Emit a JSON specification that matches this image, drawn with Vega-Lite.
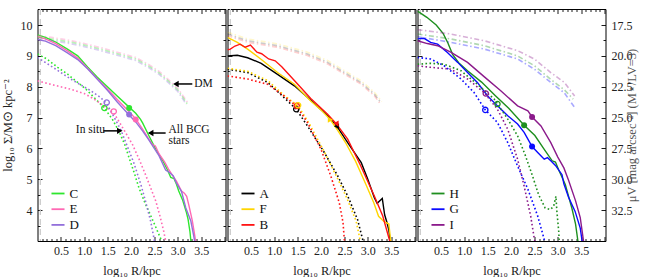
{
"$schema":"https://vega.github.io/schema/vega-lite/v6.json",
"padding":{"left":0.5,"top":8,"right":2,"bottom":0},
"spacing":0,
"resolve":{"scale":{"color":"independent"}},
"config":{"view":{"stroke":null},"font":"Liberation Serif",
 "axis":{"domainColor":"#000","domainWidth":1,"tickColor":"#000","tickWidth":0.9,"grid":false,"labelFont":"Liberation Serif","labelFontSize":12,"labelColor":"#222","titleFont":"Liberation Serif","titleFontSize":12.5,"titleFontWeight":"normal","titleColor":"#222","labelOverlap":false,"labelFlush":false},
 "legend":{"labelFont":"Liberation Serif","labelFontSize":13,"labelColor":"#111","symbolStrokeWidth":1.8,"symbolSize":170,"rowPadding":0.7,"padding":0,"labelOffset":4},
 "concat":{"spacing":0}},
"datasets":{
"soft":[{"x":0.06}],
"notes":[{"t":"DM","x":3.35,"y":8.09},{"t":"In situ","x":0.82,"y":6.59},{"t":"All BCG","x":2.8,"y":6.6},{"t":"stars","x":2.8,"y":6.25}],
"arrows":[{"x":3.31,"x2":2.96,"y":8.09,"d":"left"},{"x":1.41,"x2":1.76,"y":6.57,"d":"right"},{"x":2.74,"x2":2.42,"y":6.5,"d":"left"}],
"pts":[
{"p":1,"id":"C","k":"o","x":1.43,"y":7.31},{"p":1,"id":"D","k":"o","x":1.48,"y":7.49},{"p":1,"id":"E","k":"o","x":1.63,"y":7.2},
{"p":1,"id":"C","k":"f","x":1.96,"y":7.31},{"p":1,"id":"D","k":"f","x":1.96,"y":7.1},{"p":1,"id":"E","k":"f","x":2.1,"y":6.94},
{"p":2,"id":"A","k":"o","x":1.47,"y":7.27},{"p":2,"id":"B","k":"o","x":1.48,"y":7.38},{"p":2,"id":"F","k":"o","x":1.51,"y":7.4},
{"p":2,"id":"F","k":"f","x":2.2,"y":6.93},{"p":2,"id":"A","k":"f","x":2.33,"y":6.72},{"p":2,"id":"B","k":"f","x":2.32,"y":6.81},
{"p":3,"id":"I","k":"o","x":1.46,"y":7.78},{"p":3,"id":"H","k":"o","x":1.71,"y":7.44},{"p":3,"id":"G","k":"o","x":1.45,"y":7.25},
{"p":3,"id":"I","k":"f","x":2.45,"y":7.02},{"p":3,"id":"H","k":"f","x":2.28,"y":6.75},{"p":3,"id":"G","k":"f","x":2.45,"y":6.06}
],
"lines":[
{"p":1,"id":"C","k":"a","x":0,"y":9.68},{"p":1,"id":"C","k":"a","x":0.17,"y":9.6},{"p":1,"id":"C","k":"a","x":0.39,"y":9.45},{"p":1,"id":"C","k":"a","x":0.64,"y":9.22},{"p":1,"id":"C","k":"a","x":0.86,"y":9.0},{"p":1,"id":"C","k":"a","x":1.07,"y":8.64},{"p":1,"id":"C","k":"a","x":1.28,"y":8.31},{"p":1,"id":"C","k":"a","x":1.5,"y":7.99},{"p":1,"id":"C","k":"a","x":1.71,"y":7.69},{"p":1,"id":"C","k":"a","x":1.93,"y":7.38},{"p":1,"id":"C","k":"a","x":2.1,"y":7.14},{"p":1,"id":"C","k":"a","x":2.2,"y":6.95},{"p":1,"id":"C","k":"a","x":2.25,"y":6.82},{"p":1,"id":"C","k":"a","x":2.38,"y":6.42},{"p":1,"id":"C","k":"a","x":2.53,"y":5.97},{"p":1,"id":"C","k":"a","x":2.68,"y":5.6},{"p":1,"id":"C","k":"a","x":2.78,"y":5.3},{"p":1,"id":"C","k":"a","x":2.85,"y":5.06},{"p":1,"id":"C","k":"a","x":2.92,"y":5.02},{"p":1,"id":"C","k":"a","x":2.97,"y":4.85},{"p":1,"id":"C","k":"a","x":3.02,"y":4.62},{"p":1,"id":"C","k":"a","x":3.1,"y":4.34},{"p":1,"id":"C","k":"a","x":3.18,"y":3.95},{"p":1,"id":"C","k":"a","x":3.22,"y":3.7},{"p":1,"id":"C","k":"a","x":3.26,"y":3.3},{"p":1,"id":"C","k":"a","x":3.28,"y":3.0},
{"p":1,"id":"E","k":"a","x":0,"y":9.62},{"p":1,"id":"E","k":"a","x":0.17,"y":9.55},{"p":1,"id":"E","k":"a","x":0.39,"y":9.4},{"p":1,"id":"E","k":"a","x":0.64,"y":9.16},{"p":1,"id":"E","k":"a","x":0.86,"y":8.93},{"p":1,"id":"E","k":"a","x":1.07,"y":8.6},{"p":1,"id":"E","k":"a","x":1.28,"y":8.26},{"p":1,"id":"E","k":"a","x":1.5,"y":7.92},{"p":1,"id":"E","k":"a","x":1.71,"y":7.58},{"p":1,"id":"E","k":"a","x":1.93,"y":7.24},{"p":1,"id":"E","k":"a","x":2.1,"y":6.96},{"p":1,"id":"E","k":"a","x":2.25,"y":6.62},{"p":1,"id":"E","k":"a","x":2.38,"y":6.3},{"p":1,"id":"E","k":"a","x":2.46,"y":6.12},{"p":1,"id":"E","k":"a","x":2.52,"y":6.08},{"p":1,"id":"E","k":"a","x":2.6,"y":5.82},{"p":1,"id":"E","k":"a","x":2.72,"y":5.56},{"p":1,"id":"E","k":"a","x":2.8,"y":5.33},{"p":1,"id":"E","k":"a","x":2.97,"y":4.94},{"p":1,"id":"E","k":"a","x":3.08,"y":4.62},{"p":1,"id":"E","k":"a","x":3.14,"y":4.55},{"p":1,"id":"E","k":"a","x":3.19,"y":4.45},{"p":1,"id":"E","k":"a","x":3.24,"y":4.14},{"p":1,"id":"E","k":"a","x":3.31,"y":3.66},{"p":1,"id":"E","k":"a","x":3.36,"y":3.2},{"p":1,"id":"E","k":"a","x":3.38,"y":3.0},
{"p":1,"id":"D","k":"a","x":0,"y":9.53},{"p":1,"id":"D","k":"a","x":0.17,"y":9.48},{"p":1,"id":"D","k":"a","x":0.39,"y":9.33},{"p":1,"id":"D","k":"a","x":0.64,"y":9.1},{"p":1,"id":"D","k":"a","x":0.86,"y":8.88},{"p":1,"id":"D","k":"a","x":1.07,"y":8.58},{"p":1,"id":"D","k":"a","x":1.28,"y":8.24},{"p":1,"id":"D","k":"a","x":1.5,"y":7.88},{"p":1,"id":"D","k":"a","x":1.71,"y":7.5},{"p":1,"id":"D","k":"a","x":1.93,"y":7.13},{"p":1,"id":"D","k":"a","x":2.1,"y":6.86},{"p":1,"id":"D","k":"a","x":2.25,"y":6.56},{"p":1,"id":"D","k":"a","x":2.38,"y":6.28},{"p":1,"id":"D","k":"a","x":2.6,"y":5.76},{"p":1,"id":"D","k":"a","x":2.74,"y":5.3},{"p":1,"id":"D","k":"a","x":2.82,"y":5.22},{"p":1,"id":"D","k":"a","x":2.9,"y":5.12},{"p":1,"id":"D","k":"a","x":2.97,"y":4.88},{"p":1,"id":"D","k":"a","x":3.08,"y":4.6},{"p":1,"id":"D","k":"a","x":3.17,"y":4.08},{"p":1,"id":"D","k":"a","x":3.28,"y":3.64},{"p":1,"id":"D","k":"a","x":3.33,"y":3.25},{"p":1,"id":"D","k":"a","x":3.36,"y":3.0},
{"p":1,"id":"C","k":"s","x":0,"y":9.06},{"p":1,"id":"C","k":"s","x":0.2,"y":8.9},{"p":1,"id":"C","k":"s","x":0.43,"y":8.63},{"p":1,"id":"C","k":"s","x":0.65,"y":8.4},{"p":1,"id":"C","k":"s","x":0.86,"y":8.14},{"p":1,"id":"C","k":"s","x":1.05,"y":7.9},{"p":1,"id":"C","k":"s","x":1.21,"y":7.65},{"p":1,"id":"C","k":"s","x":1.43,"y":7.31},{"p":1,"id":"C","k":"s","x":1.6,"y":6.95},{"p":1,"id":"C","k":"s","x":1.74,"y":6.56},{"p":1,"id":"C","k":"s","x":1.86,"y":6.15},{"p":1,"id":"C","k":"s","x":1.96,"y":5.69},{"p":1,"id":"C","k":"s","x":2.07,"y":5.2},{"p":1,"id":"C","k":"s","x":2.17,"y":4.72},{"p":1,"id":"C","k":"s","x":2.28,"y":4.3},{"p":1,"id":"C","k":"s","x":2.38,"y":3.96},{"p":1,"id":"C","k":"s","x":2.5,"y":3.55},{"p":1,"id":"C","k":"s","x":2.63,"y":3.09},{"p":1,"id":"C","k":"s","x":2.66,"y":3.0},
{"p":1,"id":"E","k":"s","x":0,"y":8.19},{"p":1,"id":"E","k":"s","x":0.36,"y":8.05},{"p":1,"id":"E","k":"s","x":0.71,"y":7.92},{"p":1,"id":"E","k":"s","x":1.0,"y":7.78},{"p":1,"id":"E","k":"s","x":1.21,"y":7.6},{"p":1,"id":"E","k":"s","x":1.45,"y":7.35},{"p":1,"id":"E","k":"s","x":1.63,"y":7.15},{"p":1,"id":"E","k":"s","x":1.74,"y":6.88},{"p":1,"id":"E","k":"s","x":1.88,"y":6.52},{"p":1,"id":"E","k":"s","x":2.03,"y":6.13},{"p":1,"id":"E","k":"s","x":2.17,"y":5.66},{"p":1,"id":"E","k":"s","x":2.31,"y":5.15},{"p":1,"id":"E","k":"s","x":2.42,"y":4.72},{"p":1,"id":"E","k":"s","x":2.53,"y":4.29},{"p":1,"id":"E","k":"s","x":2.62,"y":3.8},{"p":1,"id":"E","k":"s","x":2.7,"y":3.31},{"p":1,"id":"E","k":"s","x":2.74,"y":3.0},
{"p":1,"id":"D","k":"s","x":0,"y":8.95},{"p":1,"id":"D","k":"s","x":0.36,"y":8.6},{"p":1,"id":"D","k":"s","x":0.71,"y":8.25},{"p":1,"id":"D","k":"s","x":1.14,"y":7.87},{"p":1,"id":"D","k":"s","x":1.35,"y":7.65},{"p":1,"id":"D","k":"s","x":1.48,"y":7.45},{"p":1,"id":"D","k":"s","x":1.6,"y":7.12},{"p":1,"id":"D","k":"s","x":1.78,"y":6.61},{"p":1,"id":"D","k":"s","x":1.92,"y":6.07},{"p":1,"id":"D","k":"s","x":2.06,"y":5.53},{"p":1,"id":"D","k":"s","x":2.21,"y":4.83},{"p":1,"id":"D","k":"s","x":2.31,"y":4.29},{"p":1,"id":"D","k":"s","x":2.42,"y":3.64},{"p":1,"id":"D","k":"s","x":2.49,"y":3.09},{"p":1,"id":"D","k":"s","x":2.5,"y":3.0},
{"p":1,"id":"E","k":"d","x":0,"y":9.65},{"p":1,"id":"E","k":"d","x":0.3,"y":9.6},{"p":1,"id":"E","k":"d","x":0.7,"y":9.5},{"p":1,"id":"E","k":"d","x":1.0,"y":9.4},{"p":1,"id":"E","k":"d","x":1.4,"y":9.25},{"p":1,"id":"E","k":"d","x":1.8,"y":9.08},{"p":1,"id":"E","k":"d","x":2.1,"y":8.95},{"p":1,"id":"E","k":"d","x":2.4,"y":8.7},{"p":1,"id":"E","k":"d","x":2.6,"y":8.5},{"p":1,"id":"E","k":"d","x":2.8,"y":8.23},{"p":1,"id":"E","k":"d","x":3.0,"y":7.95},{"p":1,"id":"E","k":"d","x":3.22,"y":7.47},
{"p":1,"id":"C","k":"d","x":0,"y":9.6},{"p":1,"id":"C","k":"d","x":0.3,"y":9.55},{"p":1,"id":"C","k":"d","x":0.7,"y":9.45},{"p":1,"id":"C","k":"d","x":1.0,"y":9.35},{"p":1,"id":"C","k":"d","x":1.4,"y":9.2},{"p":1,"id":"C","k":"d","x":1.8,"y":9.03},{"p":1,"id":"C","k":"d","x":2.1,"y":8.9},{"p":1,"id":"C","k":"d","x":2.4,"y":8.65},{"p":1,"id":"C","k":"d","x":2.6,"y":8.45},{"p":1,"id":"C","k":"d","x":2.8,"y":8.18},{"p":1,"id":"C","k":"d","x":3.0,"y":7.9},{"p":1,"id":"C","k":"d","x":3.2,"y":7.45},
{"p":1,"id":"D","k":"d","x":0,"y":9.55},{"p":1,"id":"D","k":"d","x":0.3,"y":9.5},{"p":1,"id":"D","k":"d","x":0.7,"y":9.4},{"p":1,"id":"D","k":"d","x":1.0,"y":9.3},{"p":1,"id":"D","k":"d","x":1.4,"y":9.15},{"p":1,"id":"D","k":"d","x":1.8,"y":8.98},{"p":1,"id":"D","k":"d","x":2.1,"y":8.85},{"p":1,"id":"D","k":"d","x":2.4,"y":8.6},{"p":1,"id":"D","k":"d","x":2.6,"y":8.4},{"p":1,"id":"D","k":"d","x":2.8,"y":8.13},{"p":1,"id":"D","k":"d","x":3.0,"y":7.85},{"p":1,"id":"D","k":"d","x":3.18,"y":7.43},
{"p":2,"id":"A","k":"a","x":0,"y":9.0},{"p":2,"id":"A","k":"a","x":0.21,"y":9.02},{"p":2,"id":"A","k":"a","x":0.43,"y":8.94},{"p":2,"id":"A","k":"a","x":0.72,"y":8.76},{"p":2,"id":"A","k":"a","x":1.07,"y":8.4},{"p":2,"id":"A","k":"a","x":1.43,"y":8.03},{"p":2,"id":"A","k":"a","x":1.78,"y":7.56},{"p":2,"id":"A","k":"a","x":2.14,"y":7.06},{"p":2,"id":"A","k":"a","x":2.33,"y":6.74},{"p":2,"id":"A","k":"a","x":2.57,"y":6.19},{"p":2,"id":"A","k":"a","x":2.86,"y":5.54},{"p":2,"id":"A","k":"a","x":3.0,"y":5.0},{"p":2,"id":"A","k":"a","x":3.14,"y":4.4},{"p":2,"id":"A","k":"a","x":3.2,"y":4.22},{"p":2,"id":"A","k":"a","x":3.31,"y":4.38},{"p":2,"id":"A","k":"a","x":3.36,"y":3.85},{"p":2,"id":"A","k":"a","x":3.41,"y":3.6},{"p":2,"id":"A","k":"a","x":3.45,"y":3.35},{"p":2,"id":"A","k":"a","x":3.48,"y":3.0},
{"p":2,"id":"F","k":"a","x":0,"y":9.6},{"p":2,"id":"F","k":"a","x":0.21,"y":9.44},{"p":2,"id":"F","k":"a","x":0.43,"y":9.22},{"p":2,"id":"F","k":"a","x":0.71,"y":8.9},{"p":2,"id":"F","k":"a","x":1.07,"y":8.46},{"p":2,"id":"F","k":"a","x":1.43,"y":8.08},{"p":2,"id":"F","k":"a","x":1.78,"y":7.54},{"p":2,"id":"F","k":"a","x":2.0,"y":7.25},{"p":2,"id":"F","k":"a","x":2.2,"y":6.93},{"p":2,"id":"F","k":"a","x":2.35,"y":6.6},{"p":2,"id":"F","k":"a","x":2.52,"y":6.2},{"p":2,"id":"F","k":"a","x":2.74,"y":5.58},{"p":2,"id":"F","k":"a","x":2.96,"y":4.83},{"p":2,"id":"F","k":"a","x":3.13,"y":4.23},{"p":2,"id":"F","k":"a","x":3.23,"y":3.8},{"p":2,"id":"F","k":"a","x":3.34,"y":3.64},{"p":2,"id":"F","k":"a","x":3.45,"y":3.55},{"p":2,"id":"F","k":"a","x":3.49,"y":3.0},
{"p":2,"id":"B","k":"a","x":0,"y":9.2},{"p":2,"id":"B","k":"a","x":0.06,"y":9.22},{"p":2,"id":"B","k":"a","x":0.16,"y":9.32},{"p":2,"id":"B","k":"a","x":0.27,"y":9.38},{"p":2,"id":"B","k":"a","x":0.38,"y":9.28},{"p":2,"id":"B","k":"a","x":0.49,"y":9.35},{"p":2,"id":"B","k":"a","x":0.63,"y":9.12},{"p":2,"id":"B","k":"a","x":0.73,"y":9.07},{"p":2,"id":"B","k":"a","x":0.88,"y":8.9},{"p":2,"id":"B","k":"a","x":1.02,"y":8.84},{"p":2,"id":"B","k":"a","x":1.16,"y":8.65},{"p":2,"id":"B","k":"a","x":1.43,"y":8.2},{"p":2,"id":"B","k":"a","x":1.78,"y":7.62},{"p":2,"id":"B","k":"a","x":2.14,"y":7.11},{"p":2,"id":"B","k":"a","x":2.32,"y":6.81},{"p":2,"id":"B","k":"a","x":2.57,"y":6.3},{"p":2,"id":"B","k":"a","x":2.85,"y":5.43},{"p":2,"id":"B","k":"a","x":3.14,"y":4.46},{"p":2,"id":"B","k":"a","x":3.32,"y":3.81},{"p":2,"id":"B","k":"a","x":3.46,"y":3.05},{"p":2,"id":"B","k":"a","x":3.47,"y":3.0},
{"p":2,"id":"A","k":"s","x":0,"y":8.57},{"p":2,"id":"A","k":"s","x":0.43,"y":8.46},{"p":2,"id":"A","k":"s","x":0.86,"y":8.14},{"p":2,"id":"A","k":"s","x":1.21,"y":7.65},{"p":2,"id":"A","k":"s","x":1.47,"y":7.27},{"p":2,"id":"A","k":"s","x":1.71,"y":6.73},{"p":2,"id":"A","k":"s","x":2.07,"y":5.87},{"p":2,"id":"A","k":"s","x":2.36,"y":5.1},{"p":2,"id":"A","k":"s","x":2.57,"y":4.46},{"p":2,"id":"A","k":"s","x":2.78,"y":3.7},{"p":2,"id":"A","k":"s","x":2.89,"y":3.05},{"p":2,"id":"A","k":"s","x":2.9,"y":3.0},
{"p":2,"id":"F","k":"s","x":0,"y":8.6},{"p":2,"id":"F","k":"s","x":0.43,"y":8.5},{"p":2,"id":"F","k":"s","x":0.86,"y":8.2},{"p":2,"id":"F","k":"s","x":1.21,"y":7.72},{"p":2,"id":"F","k":"s","x":1.51,"y":7.38},{"p":2,"id":"F","k":"s","x":1.75,"y":6.8},{"p":2,"id":"F","k":"s","x":2.05,"y":5.95},{"p":2,"id":"F","k":"s","x":2.33,"y":5.1},{"p":2,"id":"F","k":"s","x":2.55,"y":4.4},{"p":2,"id":"F","k":"s","x":2.75,"y":3.65},{"p":2,"id":"F","k":"s","x":2.84,"y":3.0},
{"p":2,"id":"B","k":"s","x":0,"y":8.35},{"p":2,"id":"B","k":"s","x":0.43,"y":8.25},{"p":2,"id":"B","k":"s","x":0.86,"y":8.08},{"p":2,"id":"B","k":"s","x":1.21,"y":7.7},{"p":2,"id":"B","k":"s","x":1.48,"y":7.36},{"p":2,"id":"B","k":"s","x":1.71,"y":6.84},{"p":2,"id":"B","k":"s","x":2.0,"y":5.97},{"p":2,"id":"B","k":"s","x":2.21,"y":5.1},{"p":2,"id":"B","k":"s","x":2.39,"y":4.24},{"p":2,"id":"B","k":"s","x":2.47,"y":3.6},{"p":2,"id":"B","k":"s","x":2.5,"y":3.0},
{"p":2,"id":"F","k":"d","x":0,"y":9.77},{"p":2,"id":"F","k":"d","x":0.43,"y":9.55},{"p":2,"id":"F","k":"d","x":1.07,"y":9.39},{"p":2,"id":"F","k":"d","x":1.71,"y":9.12},{"p":2,"id":"F","k":"d","x":2.14,"y":8.85},{"p":2,"id":"F","k":"d","x":2.5,"y":8.52},{"p":2,"id":"F","k":"d","x":2.85,"y":8.2},{"p":2,"id":"F","k":"d","x":3.14,"y":7.82},{"p":2,"id":"F","k":"d","x":3.3,"y":7.52},
{"p":2,"id":"A","k":"d","x":0,"y":9.71},{"p":2,"id":"A","k":"d","x":0.43,"y":9.49},{"p":2,"id":"A","k":"d","x":1.07,"y":9.33},{"p":2,"id":"A","k":"d","x":1.71,"y":9.06},{"p":2,"id":"A","k":"d","x":2.14,"y":8.79},{"p":2,"id":"A","k":"d","x":2.5,"y":8.46},{"p":2,"id":"A","k":"d","x":2.85,"y":8.14},{"p":2,"id":"A","k":"d","x":3.14,"y":7.76},{"p":2,"id":"A","k":"d","x":3.28,"y":7.49},
{"p":2,"id":"B","k":"d","x":0,"y":9.66},{"p":2,"id":"B","k":"d","x":0.43,"y":9.44},{"p":2,"id":"B","k":"d","x":1.07,"y":9.28},{"p":2,"id":"B","k":"d","x":1.71,"y":9.01},{"p":2,"id":"B","k":"d","x":2.14,"y":8.74},{"p":2,"id":"B","k":"d","x":2.5,"y":8.41},{"p":2,"id":"B","k":"d","x":2.85,"y":8.09},{"p":2,"id":"B","k":"d","x":3.14,"y":7.71},{"p":2,"id":"B","k":"d","x":3.26,"y":7.46},
{"p":3,"id":"H","k":"a","x":0,"y":10.45},{"p":3,"id":"H","k":"a","x":0.2,"y":10.25},{"p":3,"id":"H","k":"a","x":0.4,"y":10.0},{"p":3,"id":"H","k":"a","x":0.55,"y":9.72},{"p":3,"id":"H","k":"a","x":0.65,"y":9.42},{"p":3,"id":"H","k":"a","x":0.75,"y":9.05},{"p":3,"id":"H","k":"a","x":0.88,"y":8.78},{"p":3,"id":"H","k":"a","x":1.07,"y":8.52},{"p":3,"id":"H","k":"a","x":1.37,"y":8.15},{"p":3,"id":"H","k":"a","x":1.66,"y":7.72},{"p":3,"id":"H","k":"a","x":1.95,"y":7.3},{"p":3,"id":"H","k":"a","x":2.28,"y":6.75},{"p":3,"id":"H","k":"a","x":2.51,"y":6.42},{"p":3,"id":"H","k":"a","x":2.71,"y":5.97},{"p":3,"id":"H","k":"a","x":2.88,"y":5.6},{"p":3,"id":"H","k":"a","x":2.95,"y":5.56},{"p":3,"id":"H","k":"a","x":3.02,"y":5.3},{"p":3,"id":"H","k":"a","x":3.16,"y":4.83},{"p":3,"id":"H","k":"a","x":3.3,"y":4.07},{"p":3,"id":"H","k":"a","x":3.38,"y":3.55},{"p":3,"id":"H","k":"a","x":3.43,"y":3.0},
{"p":3,"id":"G","k":"a","x":0,"y":9.55},{"p":3,"id":"G","k":"a","x":0.14,"y":9.57},{"p":3,"id":"G","k":"a","x":0.28,"y":9.44},{"p":3,"id":"G","k":"a","x":0.43,"y":9.38},{"p":3,"id":"G","k":"a","x":0.64,"y":9.11},{"p":3,"id":"G","k":"a","x":0.86,"y":8.79},{"p":3,"id":"G","k":"a","x":1.07,"y":8.46},{"p":3,"id":"G","k":"a","x":1.28,"y":8.14},{"p":3,"id":"G","k":"a","x":1.5,"y":7.7},{"p":3,"id":"G","k":"a","x":1.71,"y":7.38},{"p":3,"id":"G","k":"a","x":1.93,"y":7.06},{"p":3,"id":"G","k":"a","x":2.14,"y":6.79},{"p":3,"id":"G","k":"a","x":2.28,"y":6.52},{"p":3,"id":"G","k":"a","x":2.45,"y":6.06},{"p":3,"id":"G","k":"a","x":2.57,"y":5.87},{"p":3,"id":"G","k":"a","x":2.71,"y":5.65},{"p":3,"id":"G","k":"a","x":2.78,"y":5.7},{"p":3,"id":"G","k":"a","x":2.85,"y":5.6},{"p":3,"id":"G","k":"a","x":2.95,"y":5.45},{"p":3,"id":"G","k":"a","x":3.09,"y":5.15},{"p":3,"id":"G","k":"a","x":3.13,"y":4.85},{"p":3,"id":"G","k":"a","x":3.23,"y":4.42},{"p":3,"id":"G","k":"a","x":3.37,"y":3.96},{"p":3,"id":"G","k":"a","x":3.48,"y":3.42},{"p":3,"id":"G","k":"a","x":3.52,"y":3.0},
{"p":3,"id":"I","k":"a","x":0,"y":9.49},{"p":3,"id":"I","k":"a","x":0.21,"y":9.4},{"p":3,"id":"I","k":"a","x":0.43,"y":9.33},{"p":3,"id":"I","k":"a","x":0.71,"y":9.12},{"p":3,"id":"I","k":"a","x":1.07,"y":8.79},{"p":3,"id":"I","k":"a","x":1.43,"y":8.32},{"p":3,"id":"I","k":"a","x":1.78,"y":7.87},{"p":3,"id":"I","k":"a","x":2.14,"y":7.38},{"p":3,"id":"I","k":"a","x":2.36,"y":7.22},{"p":3,"id":"I","k":"a","x":2.45,"y":7.02},{"p":3,"id":"I","k":"a","x":2.64,"y":6.73},{"p":3,"id":"I","k":"a","x":2.85,"y":6.19},{"p":3,"id":"I","k":"a","x":3.0,"y":5.72},{"p":3,"id":"I","k":"a","x":3.13,"y":5.37},{"p":3,"id":"I","k":"a","x":3.23,"y":4.97},{"p":3,"id":"I","k":"a","x":3.38,"y":4.3},{"p":3,"id":"I","k":"a","x":3.48,"y":3.76},{"p":3,"id":"I","k":"a","x":3.55,"y":3.0},
{"p":3,"id":"G","k":"s","x":0,"y":8.95},{"p":3,"id":"G","k":"s","x":0.28,"y":8.9},{"p":3,"id":"G","k":"s","x":0.57,"y":8.68},{"p":3,"id":"G","k":"s","x":0.93,"y":8.25},{"p":3,"id":"G","k":"s","x":1.21,"y":7.81},{"p":3,"id":"G","k":"s","x":1.45,"y":7.25},{"p":3,"id":"G","k":"s","x":1.71,"y":6.84},{"p":3,"id":"G","k":"s","x":1.93,"y":6.19},{"p":3,"id":"G","k":"s","x":2.14,"y":5.43},{"p":3,"id":"G","k":"s","x":2.36,"y":4.68},{"p":3,"id":"G","k":"s","x":2.57,"y":3.81},{"p":3,"id":"G","k":"s","x":2.71,"y":3.05},{"p":3,"id":"G","k":"s","x":2.72,"y":3.0},
{"p":3,"id":"I","k":"s","x":0,"y":8.68},{"p":3,"id":"I","k":"s","x":0.28,"y":8.63},{"p":3,"id":"I","k":"s","x":0.71,"y":8.57},{"p":3,"id":"I","k":"s","x":1.07,"y":8.25},{"p":3,"id":"I","k":"s","x":1.43,"y":7.81},{"p":3,"id":"I","k":"s","x":1.71,"y":7.27},{"p":3,"id":"I","k":"s","x":1.93,"y":6.62},{"p":3,"id":"I","k":"s","x":2.14,"y":5.65},{"p":3,"id":"I","k":"s","x":2.28,"y":4.78},{"p":3,"id":"I","k":"s","x":2.42,"y":3.81},{"p":3,"id":"I","k":"s","x":2.5,"y":3.05},{"p":3,"id":"I","k":"s","x":2.51,"y":3.0},
{"p":3,"id":"H","k":"s","x":0,"y":8.73},{"p":3,"id":"H","k":"s","x":0.28,"y":8.76},{"p":3,"id":"H","k":"s","x":0.57,"y":8.73},{"p":3,"id":"H","k":"s","x":0.93,"y":8.52},{"p":3,"id":"H","k":"s","x":1.28,"y":8.08},{"p":3,"id":"H","k":"s","x":1.64,"y":7.6},{"p":3,"id":"H","k":"s","x":1.93,"y":6.95},{"p":3,"id":"H","k":"s","x":2.14,"y":6.41},{"p":3,"id":"H","k":"s","x":2.3,"y":5.8},{"p":3,"id":"H","k":"s","x":2.45,"y":5.15},{"p":3,"id":"H","k":"s","x":2.59,"y":4.5},{"p":3,"id":"H","k":"s","x":2.73,"y":4.07},{"p":3,"id":"H","k":"s","x":2.84,"y":4.02},{"p":3,"id":"H","k":"s","x":2.91,"y":4.12},{"p":3,"id":"H","k":"s","x":2.96,"y":4.45},{"p":3,"id":"H","k":"s","x":2.98,"y":3.97},{"p":3,"id":"H","k":"s","x":3.02,"y":3.31},{"p":3,"id":"H","k":"s","x":3.03,"y":3.0},
{"p":3,"id":"I","k":"d","x":0,"y":9.85},{"p":3,"id":"I","k":"d","x":0.71,"y":9.71},{"p":3,"id":"I","k":"d","x":1.43,"y":9.49},{"p":3,"id":"I","k":"d","x":2.14,"y":9.17},{"p":3,"id":"I","k":"d","x":2.5,"y":8.9},{"p":3,"id":"I","k":"d","x":2.85,"y":8.46},{"p":3,"id":"I","k":"d","x":3.14,"y":8.14},{"p":3,"id":"I","k":"d","x":3.36,"y":7.7},
{"p":3,"id":"H","k":"d","x":0,"y":9.71},{"p":3,"id":"H","k":"d","x":0.71,"y":9.55},{"p":3,"id":"H","k":"d","x":1.43,"y":9.33},{"p":3,"id":"H","k":"d","x":2.14,"y":9.0},{"p":3,"id":"H","k":"d","x":2.5,"y":8.68},{"p":3,"id":"H","k":"d","x":2.85,"y":8.24},{"p":3,"id":"H","k":"d","x":3.14,"y":7.9},{"p":3,"id":"H","k":"d","x":3.33,"y":7.6},
{"p":3,"id":"G","k":"d","x":0,"y":9.62},{"p":3,"id":"G","k":"d","x":0.71,"y":9.44},{"p":3,"id":"G","k":"d","x":1.43,"y":9.22},{"p":3,"id":"G","k":"d","x":2.14,"y":8.9},{"p":3,"id":"G","k":"d","x":2.5,"y":8.57},{"p":3,"id":"G","k":"d","x":2.85,"y":8.14},{"p":3,"id":"G","k":"d","x":3.14,"y":7.8},{"p":3,"id":"G","k":"d","x":3.36,"y":7.33}
]},
"hconcat":[
{"width":188,"height":232,
 "resolve":{"axis":{"x":"independent","y":"independent"}},
 "layer":[
  {"data":{"name":"soft"},"mark":{"type":"rule","strokeDash":[6,4],"color":"#c8c8c8","strokeWidth":1.2},
   "encoding":{"x":{"field":"x","type":"quantitative","scale":{"domain":[0,4.02],"nice":false,"zero":false},
     "axis":{"orient":"bottom","values":[0.1,0.2,0.3,0.4,0.5,0.6,0.7,0.8,0.9,1.0,1.1,1.2,1.3,1.4,1.5,1.6,1.7,1.8,1.9,2.0,2.1,2.2,2.3,2.4,2.5,2.6,2.7,2.8,2.9,3.0,3.1,3.2,3.3,3.4,3.5,3.6,3.7,3.8,3.9,4.0],"labelExpr":"abs(datum.value*2-round(datum.value*2))<0.01 && datum.value<3.9 ? format(datum.value,'.1f') : ''","tickSize":{"condition":{"test":"abs(datum.value*2-round(datum.value*2))<0.01","value":-4.5},"value":-2.5},"labelPadding":9,"title":"log₁₀ R/kpc","titlePadding":6}}}},
  {"data":{"name":"lines"},"transform":[{"filter":"datum.p==1 && datum.k=='a'"}],
   "mark":{"type":"line","strokeWidth":1.4,"clip":true},
   "encoding":{"x":{"field":"x","type":"quantitative","scale":{"domain":[0,4.02],"nice":false,"zero":false},"axis":null},
    "y":{"field":"y","type":"quantitative","scale":{"domain":[3,10.52],"nice":false,"zero":false},"axis":null},
    "color":{"field":"id","type":"nominal","scale":{"domain":["C","E","D"],"range":["#2ee62e","#ff69b4","#9370db"]},"legend":{"orient":"none","legendX":13,"legendY":177,"title":null}}}},
  {"data":{"name":"lines"},"transform":[{"filter":"datum.p==1 && datum.k=='d'"}],
   "mark":{"type":"line","strokeDash":[5,2.5,1.5,2.5],"strokeWidth":1.6,"opacity":0.33,"clip":true},
   "encoding":{"x":{"field":"x","type":"quantitative","scale":{"domain":[0,4.02],"nice":false,"zero":false},
     "axis":{"orient":"top","values":[0.1,0.2,0.3,0.4,0.5,0.6,0.7,0.8,0.9,1.0,1.1,1.2,1.3,1.4,1.5,1.6,1.7,1.8,1.9,2.0,2.1,2.2,2.3,2.4,2.5,2.6,2.7,2.8,2.9,3.0,3.1,3.2,3.3,3.4,3.5,3.6,3.7,3.8,3.9,4.0],"labels":false,"tickSize":{"condition":{"test":"abs(datum.value*2-round(datum.value*2))<0.01","value":-4.5},"value":-2.5},"title":null}},
    "y":{"field":"y","type":"quantitative","scale":{"domain":[3,10.52],"nice":false,"zero":false},
     "axis":{"orient":"right","values":[3.5,4,4.5,5,5.5,6,6.5,7,7.5,8,8.5,9,9.5,10],"labels":false,"tickSize":{"condition":{"test":"abs(datum.value-round(datum.value))<0.01","value":-4.5},"value":-2.5},"title":null}},
    "color":{"field":"id","type":"nominal","scale":{"domain":["C","E","D"],"range":["#2ee62e","#ff69b4","#9370db"]},"legend":null}}},
  {"data":{"name":"lines"},"transform":[{"filter":"datum.p==1 && datum.k=='s'"}],
   "mark":{"type":"line","strokeDash":[1.6,2.4],"strokeWidth":1.6,"clip":true},
   "encoding":{"x":{"field":"x","type":"quantitative","scale":{"domain":[0,4.02],"nice":false,"zero":false},"axis":null},
    "y":{"field":"y","type":"quantitative","scale":{"domain":[3,10.52],"nice":false,"zero":false},
     "axis":{"orient":"left","values":[3.5,4,4.5,5,5.5,6,6.5,7,7.5,8,8.5,9,9.5,10],"labelExpr":"abs(datum.value-round(datum.value))<0.01 ? format(datum.value,'d') : ''","tickSize":{"condition":{"test":"abs(datum.value-round(datum.value))<0.01","value":-4.5},"value":-2.5},"labelPadding":10,"title":"log₁₀ Σ/M⊙ kpc⁻²","titlePadding":6}},
    "color":{"field":"id","type":"nominal","scale":{"domain":["C","E","D"],"range":["#2ee62e","#ff69b4","#9370db"]},"legend":null}}},
  {"data":{"name":"pts"},"transform":[{"filter":"datum.p==1 && datum.k=='o'"}],
   "mark":{"type":"point","filled":false,"strokeWidth":1.3,"size":28,"opacity":1},
   "encoding":{"x":{"field":"x","type":"quantitative","scale":{"domain":[0,4.02],"nice":false,"zero":false},"axis":null},
    "y":{"field":"y","type":"quantitative","scale":{"domain":[3,10.52],"nice":false,"zero":false},"axis":null},
    "color":{"field":"id","type":"nominal","scale":{"domain":["C","E","D"],"range":["#2ee62e","#ff69b4","#9370db"]},"legend":null}}},
  {"data":{"name":"pts"},"transform":[{"filter":"datum.p==1 && datum.k=='f'"}],
   "mark":{"type":"point","filled":true,"size":36,"opacity":1},
   "encoding":{"x":{"field":"x","type":"quantitative","scale":{"domain":[0,4.02],"nice":false,"zero":false},"axis":null},
    "y":{"field":"y","type":"quantitative","scale":{"domain":[3,10.52],"nice":false,"zero":false},"axis":null},
    "color":{"field":"id","type":"nominal","scale":{"domain":["C","E","D"],"range":["#2ee62e","#ff69b4","#9370db"]},"legend":null}}},
  {"data":{"name":"notes"},"mark":{"type":"text","align":"left","baseline":"middle","font":"Liberation Serif","fontSize":11.5,"color":"#111"},
   "encoding":{"x":{"field":"x","type":"quantitative","scale":{"domain":[0,4.02],"nice":false,"zero":false},"axis":null},
    "y":{"field":"y","type":"quantitative","scale":{"domain":[3,10.52],"nice":false,"zero":false},"axis":null},
    "text":{"field":"t"}}},
  {"data":{"name":"arrows"},"mark":{"type":"rule","color":"#000","strokeWidth":1.5},
   "encoding":{"x":{"field":"x","type":"quantitative","scale":{"domain":[0,4.02],"nice":false,"zero":false},"axis":null},
    "x2":{"field":"x2"},
    "y":{"field":"y","type":"quantitative","scale":{"domain":[3,10.52],"nice":false,"zero":false},"axis":null}}},
  {"data":{"name":"arrows"},"mark":{"type":"point","filled":true,"color":"#000","size":40,"opacity":1},
   "encoding":{"x":{"field":"x2","type":"quantitative","scale":{"domain":[0,4.02],"nice":false,"zero":false},"axis":null},
    "y":{"field":"y","type":"quantitative","scale":{"domain":[3,10.52],"nice":false,"zero":false},"axis":null},
    "shape":{"field":"d","type":"nominal","scale":{"domain":["left","right"],"range":["triangle-left","triangle-right"]},"legend":null}}}
 ]},
{"width":188,"height":232,
 "resolve":{"axis":{"x":"independent","y":"independent"}},
 "layer":[
  {"data":{"name":"soft"},"mark":{"type":"rule","strokeDash":[6,4],"color":"#c8c8c8","strokeWidth":1.2},
   "encoding":{"x":{"field":"x","type":"quantitative","scale":{"domain":[0,4.02],"nice":false,"zero":false},
     "axis":{"orient":"bottom","values":[0.1,0.2,0.3,0.4,0.5,0.6,0.7,0.8,0.9,1.0,1.1,1.2,1.3,1.4,1.5,1.6,1.7,1.8,1.9,2.0,2.1,2.2,2.3,2.4,2.5,2.6,2.7,2.8,2.9,3.0,3.1,3.2,3.3,3.4,3.5,3.6,3.7,3.8,3.9,4.0],"labelExpr":"abs(datum.value*2-round(datum.value*2))<0.01 && datum.value<3.9 ? format(datum.value,'.1f') : ''","tickSize":{"condition":{"test":"abs(datum.value*2-round(datum.value*2))<0.01","value":-4.5},"value":-2.5},"labelPadding":9,"title":"log₁₀ R/kpc","titlePadding":6}}}},
  {"data":{"name":"lines"},"transform":[{"filter":"datum.p==2 && datum.k=='a'"}],
   "mark":{"type":"line","strokeWidth":1.4,"clip":true},
   "encoding":{"x":{"field":"x","type":"quantitative","scale":{"domain":[0,4.02],"nice":false,"zero":false},"axis":null},
    "y":{"field":"y","type":"quantitative","scale":{"domain":[3,10.52],"nice":false,"zero":false},"axis":null},
    "color":{"field":"id","type":"nominal","scale":{"domain":["A","F","B"],"range":["#000000","#ffd500","#ff1414"]},"legend":{"orient":"none","legendX":13,"legendY":177,"title":null}}}},
  {"data":{"name":"lines"},"transform":[{"filter":"datum.p==2 && datum.k=='d'"}],
   "mark":{"type":"line","strokeDash":[5,2.5,1.5,2.5],"strokeWidth":1.6,"opacity":0.2,"clip":true},
   "encoding":{"x":{"field":"x","type":"quantitative","scale":{"domain":[0,4.02],"nice":false,"zero":false},
     "axis":{"orient":"top","values":[0.1,0.2,0.3,0.4,0.5,0.6,0.7,0.8,0.9,1.0,1.1,1.2,1.3,1.4,1.5,1.6,1.7,1.8,1.9,2.0,2.1,2.2,2.3,2.4,2.5,2.6,2.7,2.8,2.9,3.0,3.1,3.2,3.3,3.4,3.5,3.6,3.7,3.8,3.9,4.0],"labels":false,"tickSize":{"condition":{"test":"abs(datum.value*2-round(datum.value*2))<0.01","value":-4.5},"value":-2.5},"title":null}},
    "y":{"field":"y","type":"quantitative","scale":{"domain":[3,10.52],"nice":false,"zero":false},
     "axis":{"orient":"right","values":[3.5,4,4.5,5,5.5,6,6.5,7,7.5,8,8.5,9,9.5,10],"labels":false,"tickSize":{"condition":{"test":"abs(datum.value-round(datum.value))<0.01","value":-4.5},"value":-2.5},"title":null}},
    "color":{"field":"id","type":"nominal","scale":{"domain":["A","F","B"],"range":["#000000","#ffc800","#ff3c14"]},"legend":null}}},
  {"data":{"name":"lines"},"transform":[{"filter":"datum.p==2 && datum.k=='s'"}],
   "mark":{"type":"line","strokeDash":[1.6,2.4],"strokeWidth":1.6,"clip":true},
   "encoding":{"x":{"field":"x","type":"quantitative","scale":{"domain":[0,4.02],"nice":false,"zero":false},"axis":null},
    "y":{"field":"y","type":"quantitative","scale":{"domain":[3,10.52],"nice":false,"zero":false},
     "axis":{"orient":"left","values":[3.5,4,4.5,5,5.5,6,6.5,7,7.5,8,8.5,9,9.5,10],"labels":false,"tickSize":{"condition":{"test":"abs(datum.value-round(datum.value))<0.01","value":-4.5},"value":-2.5},"title":null}},
    "color":{"field":"id","type":"nominal","scale":{"domain":["A","F","B"],"range":["#000000","#ffd500","#ff1414"]},"legend":null}}},
  {"data":{"name":"pts"},"transform":[{"filter":"datum.p==2 && datum.k=='o'"}],
   "mark":{"type":"point","filled":false,"strokeWidth":1.3,"size":28,"opacity":1},
   "encoding":{"x":{"field":"x","type":"quantitative","scale":{"domain":[0,4.02],"nice":false,"zero":false},"axis":null},
    "y":{"field":"y","type":"quantitative","scale":{"domain":[3,10.52],"nice":false,"zero":false},"axis":null},
    "color":{"field":"id","type":"nominal","scale":{"domain":["A","F","B"],"range":["#000000","#ffd500","#ff1414"]},"legend":null}}},
  {"data":{"name":"pts"},"transform":[{"filter":"datum.p==2 && datum.k=='f'"}],
   "mark":{"type":"point","filled":true,"size":36,"opacity":1},
   "encoding":{"x":{"field":"x","type":"quantitative","scale":{"domain":[0,4.02],"nice":false,"zero":false},"axis":null},
    "y":{"field":"y","type":"quantitative","scale":{"domain":[3,10.52],"nice":false,"zero":false},"axis":null},
    "color":{"field":"id","type":"nominal","scale":{"domain":["A","F","B"],"range":["#000000","#ffd500","#ff1414"]},"legend":null},
    "shape":{"field":"id","type":"nominal","scale":{"domain":["A","F","B"],"range":["square","circle","square"]},"legend":null}}}
 ]},
{"width":188,"height":232,
 "resolve":{"axis":{"x":"independent","y":"independent"}},
 "layer":[
  {"data":{"name":"soft"},"mark":{"type":"rule","strokeDash":[6,4],"color":"#c8c8c8","strokeWidth":1.2},
   "encoding":{"x":{"field":"x","type":"quantitative","scale":{"domain":[0,4.02],"nice":false,"zero":false},
     "axis":{"orient":"bottom","values":[0.1,0.2,0.3,0.4,0.5,0.6,0.7,0.8,0.9,1.0,1.1,1.2,1.3,1.4,1.5,1.6,1.7,1.8,1.9,2.0,2.1,2.2,2.3,2.4,2.5,2.6,2.7,2.8,2.9,3.0,3.1,3.2,3.3,3.4,3.5,3.6,3.7,3.8,3.9,4.0],"labelExpr":"abs(datum.value*2-round(datum.value*2))<0.01 && datum.value<3.9 ? format(datum.value,'.1f') : ''","tickSize":{"condition":{"test":"abs(datum.value*2-round(datum.value*2))<0.01","value":-4.5},"value":-2.5},"labelPadding":9,"title":"log₁₀ R/kpc","titlePadding":6}}}},
  {"data":{"name":"lines"},"transform":[{"filter":"datum.p==3 && datum.k=='a'"}],
   "mark":{"type":"line","strokeWidth":1.4,"clip":true},
   "encoding":{"x":{"field":"x","type":"quantitative","scale":{"domain":[0,4.02],"nice":false,"zero":false},"axis":null},
    "y":{"field":"y","type":"quantitative","scale":{"domain":[3,10.52],"nice":false,"zero":false},"axis":null},
    "color":{"field":"id","type":"nominal","scale":{"domain":["H","G","I"],"range":["#1f8f1f","#0a0aff","#8b1a8b"]},"legend":{"orient":"none","legendX":13,"legendY":177,"title":null}}}},
  {"data":{"name":"lines"},"transform":[{"filter":"datum.p==3 && datum.k=='d'"}],
   "mark":{"type":"line","strokeDash":[5,2.5,1.5,2.5],"strokeWidth":1.6,"opacity":0.35,"clip":true},
   "encoding":{"x":{"field":"x","type":"quantitative","scale":{"domain":[0,4.02],"nice":false,"zero":false},
     "axis":{"orient":"top","values":[0.1,0.2,0.3,0.4,0.5,0.6,0.7,0.8,0.9,1.0,1.1,1.2,1.3,1.4,1.5,1.6,1.7,1.8,1.9,2.0,2.1,2.2,2.3,2.4,2.5,2.6,2.7,2.8,2.9,3.0,3.1,3.2,3.3,3.4,3.5,3.6,3.7,3.8,3.9,4.0],"labels":false,"tickSize":{"condition":{"test":"abs(datum.value*2-round(datum.value*2))<0.01","value":-4.5},"value":-2.5},"title":null}},
    "y":{"field":"y","type":"quantitative","scale":{"domain":[3,10.52],"nice":false,"zero":false},
     "axis":{"orient":"right","values":[3.5,4,4.5,5,5.5,6,6.5,7,7.5,8,8.5,9,9.5,10],"labelExpr":"abs(datum.value-round(datum.value))<0.01 ? format(17.5+2.5*(10-datum.value),'.1f') : ''","tickSize":{"condition":{"test":"abs(datum.value-round(datum.value))<0.01","value":-4.5},"value":-2.5},"labelPadding":10,"title":"μV [mag arcsec⁻²] (M⋆/LV=3)","titleAngle":270,"titleColor":"#555","titlePadding":6}},
    "color":{"field":"id","type":"nominal","scale":{"domain":["H","G","I"],"range":["#1f8f1f","#0a0aff","#c21ac2"]},"legend":null}}},
  {"data":{"name":"lines"},"transform":[{"filter":"datum.p==3 && datum.k=='s'"}],
   "mark":{"type":"line","strokeDash":[1.6,2.4],"strokeWidth":1.6,"clip":true},
   "encoding":{"x":{"field":"x","type":"quantitative","scale":{"domain":[0,4.02],"nice":false,"zero":false},"axis":null},
    "y":{"field":"y","type":"quantitative","scale":{"domain":[3,10.52],"nice":false,"zero":false},
     "axis":{"orient":"left","values":[3.5,4,4.5,5,5.5,6,6.5,7,7.5,8,8.5,9,9.5,10],"labels":false,"tickSize":{"condition":{"test":"abs(datum.value-round(datum.value))<0.01","value":-4.5},"value":-2.5},"title":null}},
    "color":{"field":"id","type":"nominal","scale":{"domain":["H","G","I"],"range":["#1f8f1f","#0a0aff","#8b1a8b"]},"legend":null}}},
  {"data":{"name":"pts"},"transform":[{"filter":"datum.p==3 && datum.k=='o'"}],
   "mark":{"type":"point","filled":false,"strokeWidth":1.3,"size":28,"opacity":1},
   "encoding":{"x":{"field":"x","type":"quantitative","scale":{"domain":[0,4.02],"nice":false,"zero":false},"axis":null},
    "y":{"field":"y","type":"quantitative","scale":{"domain":[3,10.52],"nice":false,"zero":false},"axis":null},
    "color":{"field":"id","type":"nominal","scale":{"domain":["H","G","I"],"range":["#1f8f1f","#0a0aff","#8b1a8b"]},"legend":null}}},
  {"data":{"name":"pts"},"transform":[{"filter":"datum.p==3 && datum.k=='f'"}],
   "mark":{"type":"point","filled":true,"size":36,"opacity":1},
   "encoding":{"x":{"field":"x","type":"quantitative","scale":{"domain":[0,4.02],"nice":false,"zero":false},"axis":null},
    "y":{"field":"y","type":"quantitative","scale":{"domain":[3,10.52],"nice":false,"zero":false},"axis":null},
    "color":{"field":"id","type":"nominal","scale":{"domain":["H","G","I"],"range":["#1f8f1f","#0a0aff","#8b1a8b"]},"legend":null}}}
 ]}
]}
